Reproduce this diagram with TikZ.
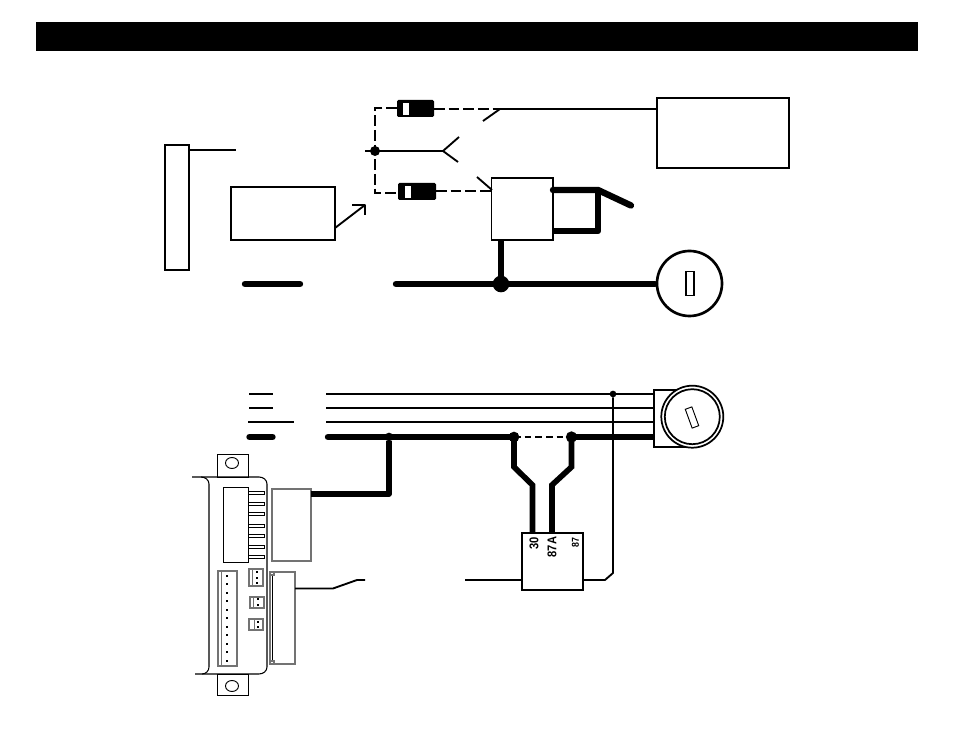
\documentclass[tikz,border=0pt]{standalone}
\usetikzlibrary{shapes.geometric}
\usepackage{fontspec}
\setmainfont{Liberation Sans}
\newcommand{\bx}[6][boxn]{\node[#1,minimum width={(#5-#3)*0.75pt},minimum height={(#6-#4)*0.75pt}] (#2) at ({(#3+#5)/2},{(#4+#6)/2}) {};}
\tikzset{
  boxn/.style={draw=black,line width=1.4pt,fill=white,inner sep=0pt,outer sep=0pt},
  thinbox/.style={draw=black,line width=.7pt,fill=white,inner sep=0pt,outer sep=0pt},
  graybox/.style={draw=black!55,line width=.8pt,fill=white,inner sep=0pt,outer sep=0pt},
  diodebody/.style={fill=black,rounded corners=1pt,inner sep=0pt,outer sep=0pt},
  diodeband/.style={fill=white,inner sep=0pt,outer sep=0pt},
  blackbar/.style={fill=black,inner sep=0pt,outer sep=0pt},
  wire/.style={line width=1.4pt,line join=round},
  thinwire/.style={line width=.9pt},
  dwire/.style={line width=1.4pt,dash pattern=on 8pt off 3pt},
  hwire/.style={line width=4.8pt,line cap=round,line join=round},
  mwire/.style={line width=3.9pt,line join=round},
  dwirefat/.style={line width=4.2pt,line join=miter},
  dotn/.style={circle,fill=black,inner sep=0pt,outer sep=0pt},
  pin/.style={draw=black,line width=.7pt,fill=white,inner sep=0pt,outer sep=0pt,minimum width=12.5pt,minimum height=1.6pt},
  smalldot/.style={fill=black,inner sep=0pt,outer sep=0pt,minimum size=1.4pt},
  rlabel/.style={rotate=90,font=\bfseries\fontsize{9.5pt}{10pt}\selectfont,inner sep=0pt,xscale=.88},
}
\begin{document}
\begin{tikzpicture}[x=0.75pt,y=-0.75pt]
\useasboundingbox (0,0) rectangle (954,737);
\fill[white] (0,0) rectangle (954,737);
\bx[blackbar]{bar}{36}{22}{918}{51}
% upper diagram
\bx{post}{165}{145}{189}{270}
\coordinate (postw) at (236,150);
\draw[wire] (189,150) -- (postw);
\bx{ctrl}{231}{187}{335}{240}
\coordinate (arrtip) at (365,205);
\draw[wire] (335,228) -- (arrtip);
\draw[wire] (352,205) -- (arrtip) -- (365,215);
\coordinate (ta) at (245,284); \coordinate (tb) at (300,284);
\draw[hwire] (ta) -- (tb);
\bx{rbox}{657}{98}{789}{168}
\coordinate (d1l) at (397,108); \coordinate (d1r) at (434,109);
\coordinate (d2l) at (398,193); \coordinate (d2r) at (436,191);
\coordinate (jtop) at (375,108); \coordinate (jbot) at (375,193);
\coordinate (swp) at (500,109); \coordinate (swb) at (483,121);
\draw[dwire] (d1l) -- (jtop) -- (jbot) -- (d2l);
\draw[dwire] (d1r) -- (swp);
\draw[wire] (swp) -- (rbox.west |- swp);
\draw[wire] (swb) -- (swp);
\bx[diodebody]{dioa}{397}{100}{434}{117}
\bx[diodeband]{dioaw}{403}{103}{409}{115}
\bx[diodebody]{diob}{398}{183}{436}{200}
\bx[diodeband]{diobw}{405}{186}{411}{198}
\node[dotn,minimum size=7.5pt] (ja) at (375,151) {};
\coordinate (fk) at (443,151);
\draw[wire] (365,151) -- (fk);
\draw[wire] (459,137) -- (fk) -- (458,162);
\bx{relayt}{491.5}{178}{553}{240}
\draw[dwire] (d2r) -- (relayt.west |- d2r);
\draw[wire] (477,177) -- (492,190);
\coordinate (rb1) at (553,190); \coordinate (rb2) at (598,190); \coordinate (rb3) at (631,205.5);
\coordinate (rb4) at (598,231); \coordinate (rb5) at (553,231);
\draw[hwire] (rb1) -- (rb2) -- (rb3);
\draw[hwire,line cap=butt] (rb2) -- (rb4) -- (rb5);
\node[circle,draw=black,line width=2pt,fill=white,minimum size={65*0.75pt},inner sep=0pt,outer sep=0pt] (keya) at (689.5,283.5) {};
\node[thinbox,line width=.8pt,minimum width={8*0.75pt},minimum height={24*0.75pt}] (slota) at (690,283.5) {};
\coordinate (ms) at (396,284);
\draw[hwire] (ms) -- (655,284);
\draw[hwire,line cap=butt] (500.7,240) -- (500.7,284);
\node[dotn,minimum size=12.5pt] (jb) at (501,284) {};
% lower diagram
\draw[wire] (249,394) -- (273,394);
\draw[thinwire] (249,408) -- (273,408);
\draw[thinwire] (248,422) -- (294,422);
\draw[hwire] (249.5,437) -- (272.5,437);
\node[thinbox,line width=.8pt,minimum width={34*0.75pt},minimum height={57*0.75pt}] (keyh) at (671,418.5) {};
\draw[wire] (326,394) -- (keyh.west |- 326,394);
\draw[thinwire] (326,408) -- (keyh.west |- 326,408);
\draw[thinwire] (326,422) -- (keyh.west |- 326,422);
\coordinate (c3) at (514,437); \coordinate (c4) at (571.5,437);
\draw[hwire] (328,437) -- (c3);
\draw[hwire,line cap=butt] (c4) -- (keyh.west |- c4);
\draw[thinwire,dash pattern=on 5pt off 3pt] (c3) -- (c4);
\draw[dwirefat] (c3) -- (514,467) -- (532.5,485) -- (532.5,533);
\draw[dwirefat] (c4) -- (571.5,467) -- (552,485) -- (552,533);
\node[dotn,minimum size=5pt] (j1) at (613,394) {};
\node[dotn,minimum size=6.5pt] (j2) at (389,437) {};
\node[dotn,minimum size=8pt] (j3) at (c3) {};
\node[dotn,minimum size=8.5pt] (j4) at (c4) {};
\node[circle,draw=black,line width=1.3pt,fill=white,minimum size={62*0.75pt},inner sep=0pt,outer sep=0pt] (keyo) at (692.3,416.7) {};
\node[circle,draw=black,line width=1.3pt,fill=white,minimum size={55*0.75pt},inner sep=0pt,outer sep=0pt] (keyi) at (692.3,416.7) {};
\node[thinbox,minimum width={7*0.75pt},minimum height={20*0.75pt},rotate=20] (slotb) at (692,417.5) {};
\bx[boxn]{relayb}{522}{533}{583}{590}
\draw[wire] (j1) -- (613,573) -- (605,580) -- (relayb.east |- 0,580);
\draw[wire] (465,580) -- (relayb.west |- 0,580);
\node[rlabel] (l30) at (534,543.5) {30};
\node[rlabel] (l87a) at (552,547) {87A};
\node[rlabel,font=\bfseries\fontsize{7.5pt}{8pt}\selectfont] (l87) at (575.5,543) {87};
% controller
\bx[thinbox]{taba}{217}{454}{248}{477}
\bx[thinbox]{tabb}{217}{674}{248}{695}
\node[ellipse,draw=black,line width=.7pt,minimum width={13*0.75pt},minimum height={11*0.75pt},inner sep=0pt] (holea) at (232,463) {};
\node[ellipse,draw=black,line width=.7pt,minimum width={13*0.75pt},minimum height={11*0.75pt},inner sep=0pt] (holeb) at (232,686) {};
\draw[line width=.8pt] (192,477) -- (201,477) to[out=0,in=90] (209,484) -- (209,667) to[out=-90,in=0] (202,674) -- (195,674);
\draw[line width=.8pt] (201,477) -- (259,477) to[out=0,in=90] (267,484) -- (267,667) to[out=-90,in=0] (259,674) -- (202,674);
\bx[thinbox]{blk}{223}{487}{248}{562}
\foreach \i/\y in {1/493,2/504,3/514,4/526,5/536,6/547,7/557}{
  \node[pin] (pin\i) at (256.5,\y) {};
}
\bx[graybox]{cona}{272}{489}{311}{561}
\bx[graybox]{conb}{270}{572}{295}{664}
\draw[line width=.5pt] (272.5,574) -- (272.5,662);
\bx[graybox]{ca}{270}{572}{274}{575}
\bx[graybox]{cb}{270}{661}{274}{664}
\bx[graybox]{strip}{218}{571}{237}{666}
\draw[draw=black!55,line width=.6pt] (221,571) -- (221,666);
\foreach \i/\y in {1/576,2/584,3/593,4/601,5/610,6/618,7/627,8/635,9/644,10/652,11/661}{
  \node[smalldot] (sd\i) at (227,\y) {};
}
\bx[graybox]{sca}{249}{569}{263}{586}
\bx[graybox]{scb}{250}{597}{264}{608}
\bx[graybox]{scc}{249}{619}{263}{630}
\draw[draw=black!55,line width=.6pt] (252,569) -- (252,586);
\draw[draw=black!55,line width=.6pt] (253,597) -- (253,608);
\draw[draw=black!55,line width=.6pt] (254,619) -- (254,630);
\foreach \i/\x/\y in {1/257/572,2/257/578,3/257/583,4/258/599,5/258/605,6/258/622,7/258/627}{
  \node[smalldot] (cd\i) at (\x,\y) {};
}
\draw[mwire] (j2) -- (389,494) -- (cona.east |- 0,494);
\draw[wire] (conb.east |- 0,588.5) -- (333,588.5) -- (357,580) -- (365,580);
\end{tikzpicture}
\end{document}
